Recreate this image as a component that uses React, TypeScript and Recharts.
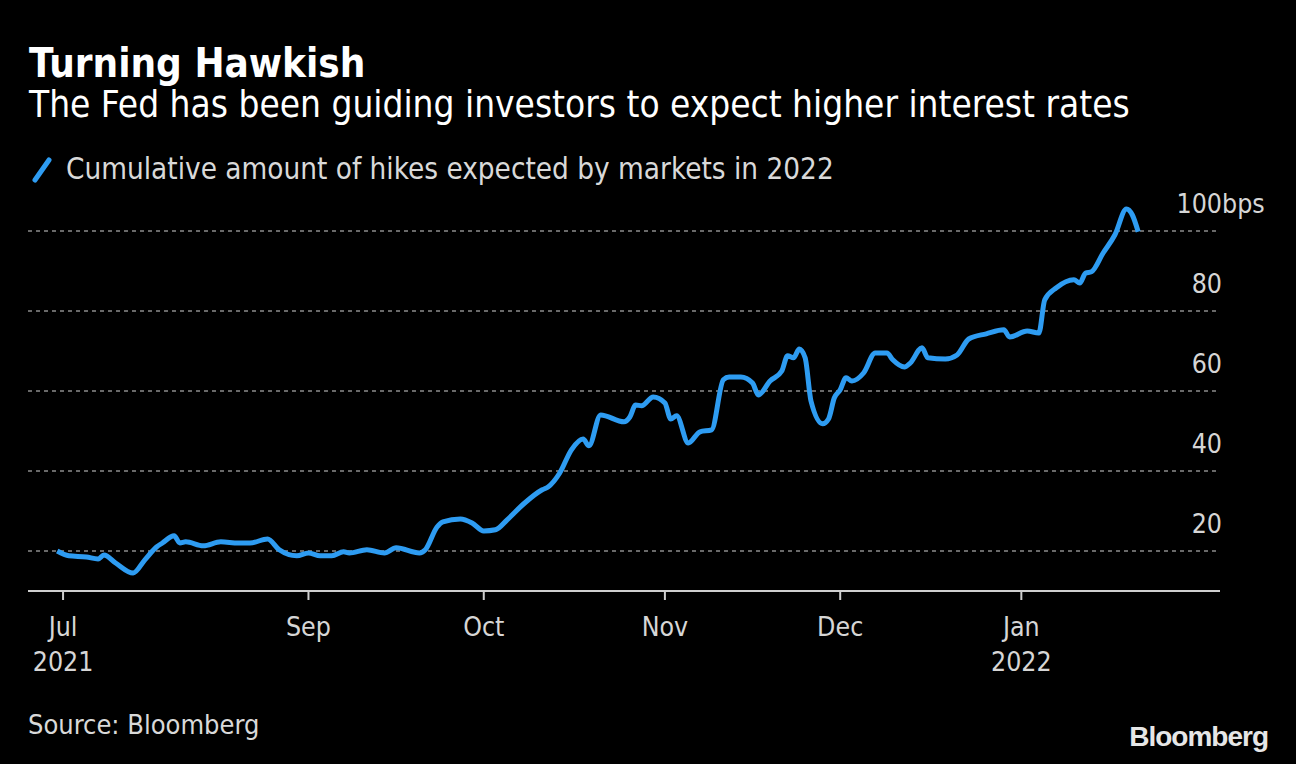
import React from "react";
import { LineChart, Line, XAxis, YAxis, CartesianGrid } from "recharts";

// days counted from 20 Jul 2021
const days = [
  0, 2, 5, 7, 8, 10, 13, 15, 17, 18, 20, 21, 22, 25, 28, 31, 33, 36, 38, 41,
  43, 45, 47, 49, 50, 53, 56, 58, 62, 63, 65, 66, 69, 71, 73, 75, 77, 80, 83,
  84, 86, 88, 90, 91, 93, 97, 98, 99, 100, 102, 104, 105, 106, 108, 110, 112,
  114, 115, 117, 119, 120, 122, 124, 125, 126, 127, 128, 129, 131, 132, 133,
  134, 135, 136, 138, 140, 142, 143, 145, 146, 148, 149, 152, 154, 156, 159,
  162, 163, 166, 168, 169, 171, 174, 175, 176, 177, 179, 181, 183, 184, 185,
];

const hikes = [
  20, 18.8, 18.5, 18, 19, 17, 14.5, 17.8, 21, 22, 23.8, 22, 22.3, 21.3, 22.3,
  22, 22, 23, 20.3, 18.8, 19.5, 18.8, 18.8, 19.8, 19.5, 20.3, 19.5, 20.8, 19.5,
  20.3, 26, 27.3, 28, 27, 25, 25.3, 27.8, 32, 35.3, 36, 39.5, 45.3, 48, 46.3,
  54, 52.3, 53.5, 56.5, 56.3, 58.5, 57, 53, 53.8, 47, 49.8, 50.3, 62.8, 63.5,
  63.5, 62, 59, 62.5, 65, 68.8, 68.3, 70.5, 68.3, 57.5, 51.8, 53, 58.3, 60.3,
  63.3, 62.5, 64.5, 69.5, 69.5, 67.8, 66, 67, 70.8, 68.3, 68, 69, 73, 74.3,
  75.3, 73.5, 75, 74.5, 82.8, 85.8, 87.8, 87, 89.5, 89.8, 94.5, 99, 105.5, 104,
  99.8,
];

const tickDays = [1, 43, 73, 104, 134, 165];
const tickMonths = ["Jul", "Sep", "Oct", "Nov", "Dec", "Jan"];
const tickYears = ["2021", "", "", "", "", "2022"];

const yTicks = [20, 40, 60, 80, 100];

const data = days.map((d, i) => ({ day: d, hikes: hikes[i] }));

const FONT = "'DejaVu Sans Condensed', 'DejaVu Sans', sans-serif";
const BLUE = "#2e9cf2";

const MonthTick = (props: any) => {
  const { x, y, payload } = props;
  const i = tickDays.indexOf(payload.value);
  return (
    <g>
      <text x={x} y={y + 36} textAnchor="middle" fill="#d6d6d6" fontSize={26.5} fontFamily={FONT}>
        {tickMonths[i]}
      </text>
      {tickYears[i] && (
        <text x={x} y={y + 71} textAnchor="middle" fill="#d6d6d6" fontSize={26.5} fontFamily={FONT}>
          {tickYears[i]}
        </text>
      )}
    </g>
  );
};

const ValueTick = (props: any) => {
  const { x, y, payload } = props;
  const top = payload.value === yTicks[yTicks.length - 1];
  return (
    <g>
      <text x={x + 2} y={y - 18} textAnchor="end" fill="#d6d6d6" fontSize={26.5} fontFamily={FONT}>
        {payload.value}
      </text>
      {top && (
        <text x={x + 2} y={y - 18} textAnchor="start" fill="#d6d6d6" fontSize={26.5} fontFamily={FONT}>
          bps
        </text>
      )}
    </g>
  );
};

export default function App() {
  return (
    <div
      style={{
        position: "absolute",
        left: 0,
        top: 0,
        width: 1296,
        height: 764,
        background: "#000",
        overflow: "hidden",
        fontFamily: FONT,
      }}
    >
      <div style={{ position: "absolute", left: 29, top: 40, color: "#fff", fontSize: 40, fontWeight: "bold", lineHeight: "46px" }}>
        Turning Hawkish
      </div>
      <div style={{ position: "absolute", left: 29, top: 83, color: "#fff", fontSize: 36.7, lineHeight: "44px" }}>
        The Fed has been guiding investors to expect higher interest rates
      </div>
      <div style={{ position: "absolute", left: 30, top: 152, display: "flex", alignItems: "center" }}>
        <svg width={24} height={32}>
          <line x1={5} y1={27} x2={19} y2={7} stroke={BLUE} strokeWidth={5} strokeLinecap="round" />
        </svg>
        <span style={{ color: "#d9d9d9", fontSize: 29.4, marginLeft: 12 }}>
          Cumulative amount of hikes expected by markets in 2022
        </span>
      </div>
      <div style={{ position: "absolute", left: 28, top: 709, color: "#d9d9d9", fontSize: 27 }}>
        Source: Bloomberg
      </div>
      <div
        style={{
          position: "absolute",
          right: 28,
          top: 721,
          color: "#e6e6e6",
          fontSize: 28,
          fontWeight: "bold",
          fontFamily: "'Liberation Sans Narrow', 'Liberation Sans', sans-serif",
          letterSpacing: -1,
        }}
      >
        Bloomberg
      </div>
      <div style={{ position: "absolute", left: 0, top: 0 }}>
        <LineChart
          width={1296}
          height={764}
          data={data}
          margin={{ top: 191, right: 66, bottom: 93, left: 28 }}
        >
          <CartesianGrid
            vertical={false}
            horizontalValues={yTicks}
            stroke="#8c8c8c"
            strokeDasharray="4 4"
            strokeWidth={1.5}
          />
          <XAxis
            dataKey="day"
            type="number"
            domain={[-5, 199]}
            ticks={tickDays}
            height={80}
            stroke="#cfcfcf"
            strokeWidth={2}
            tickSize={9}
            tickMargin={0}
            tick={<MonthTick />}
            interval={0}
            allowDataOverflow
          />
          <YAxis
            orientation="right"
            type="number"
            domain={[10, 110]}
            ticks={yTicks}
            width={10}
            axisLine={false}
            tickLine={false}
            tickSize={0}
            tickMargin={0}
            tick={<ValueTick />}
            interval={0}
            allowDataOverflow
          />
          <Line
            dataKey="hikes"
            type="monotone"
            stroke={BLUE}
            strokeWidth={5}
            dot={false}
            isAnimationActive={false}
            strokeLinejoin="round"
          />
        </LineChart>
      </div>
    </div>
  );
}
